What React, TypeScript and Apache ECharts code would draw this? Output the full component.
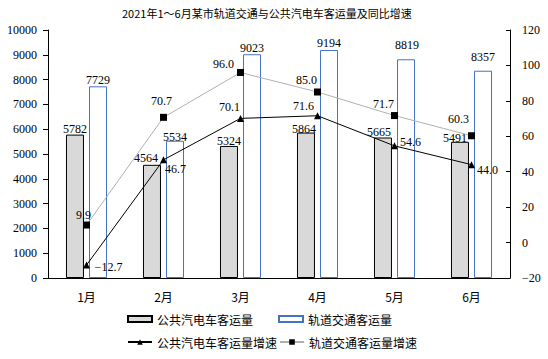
import React, { useEffect, useRef } from "react";
import * as echarts from "echarts";

const months = ["1月", "2月", "3月", "4月", "5月", "6月"];
const busVolume = [5782, 4564, 5324, 5864, 5665, 5491];
const railVolume = [7729, 5534, 9023, 9194, 8819, 8357];
const busGrowth = [-12.7, 46.7, 70.1, 71.6, 54.6, 44.0];
const railGrowth = [9.9, 70.7, 96.0, 85.0, 71.7, 60.3];

const busVolLabelOffset = [[0, 0], [-6, -1], [0, 1], [-2, 2], [-4, 0], [-5, 2]];
const railVolLabelOffset = [[0, 0], [0, 2], [0, 0], [0, -1], [1, -8], [0, -8]];
const busGrowthLabelOffset = [[22, 2], [12, 9], [-11, -11], [-14, -10], [16, -4], [16, 5]];
const railGrowthLabelOffset = [[-3, -10], [-2, -16], [-17, -9], [-11, -12], [-11, -12], [-13, -17]];

const SERIF = "'Liberation Serif', 'Times New Roman', serif";
const SANS = "'Noto Sans CJK SC', 'Noto Sans', sans-serif";

const fmtNum = (v: number, d: number) =>
  v < 0 ? "\u2212" + Math.abs(v).toFixed(d) : v.toFixed(d);

export default function App() {
  const ref = useRef<HTMLDivElement>(null);
  useEffect(() => {
    if (!ref.current) return;
    const chart = echarts.init(ref.current, undefined, { renderer: "svg" });
    const labelBase = { color: "#000", fontFamily: SERIF, fontSize: 12 };
    chart.setOption({
      animation: false,
      backgroundColor: "#fff",
      title: {
        text: "2021年1～6月某市轨道交通与公共汽电车客运量及同比增速",
        left: 122,
        top: 7,
        padding: 0,
        textStyle: { fontFamily: SANS, fontSize: 11, fontWeight: "normal", color: "#000" },
      },
      grid: { left: 48, right: 38, top: 30, bottom: 81 },
      legend: [
        {
          data: ["公共汽电车客运量"], left: 127, top: 313, padding: 0,
          itemWidth: 24, itemHeight: 6, icon: "rect",
          textStyle: { fontFamily: SANS, fontSize: 12, color: "#000" },
        },
        {
          data: ["轨道交通客运量"], left: 278, top: 313, padding: 0,
          itemWidth: 24, itemHeight: 6, icon: "rect",
          textStyle: { fontFamily: SANS, fontSize: 12, color: "#000" },
        },
        {
          data: ["公共汽电车客运量增速"], left: 127, top: 336, padding: 0,
          itemWidth: 24, itemHeight: 7,
          textStyle: { fontFamily: SANS, fontSize: 12, color: "#000" },
        },
        {
          data: ["轨道交通客运量增速"], left: 279, top: 336, padding: 0,
          itemWidth: 24, itemHeight: 7,
          textStyle: { fontFamily: SANS, fontSize: 12, color: "#000" },
        },
      ],
      xAxis: {
        type: "category",
        data: months,
        axisLine: { lineStyle: { color: "#000", width: 1 } },
        axisTick: { show: false },
        axisLabel: { color: "#000", fontFamily: SANS, fontSize: 12, margin: 12 },
      },
      yAxis: [
        {
          type: "value", min: 0, max: 10000, interval: 1000,
          axisLine: { show: true, lineStyle: { color: "#000" } },
          axisTick: { show: true, length: 5, lineStyle: { color: "#000" } },
          splitLine: { show: false },
          axisLabel: {
            color: "#000", fontFamily: SERIF, fontSize: 12, margin: 11,
            formatter: (v: number) => String(v),
          },
        },
        {
          type: "value", min: -20, max: 120, interval: 20, position: "right",
          axisLine: { show: true, lineStyle: { color: "#000" } },
          axisTick: { show: true, inside: true, length: 4, lineStyle: { color: "#000" } },
          splitLine: { show: false },
          axisLabel: {
            color: "#000", fontFamily: SERIF, fontSize: 12, margin: 12,
            formatter: (v: number) => fmtNum(v, 0),
          },
        },
      ],
      series: [
        {
          name: "公共汽电车客运量",
          type: "bar",
          barWidth: 18,
          barGap: "28%",
          itemStyle: { color: "#d9d9d9", borderColor: "#000", borderWidth: 1 },
          data: busVolume.map((v, i) => ({
            value: v,
            label: { show: true, position: "top", distance: 0, offset: busVolLabelOffset[i], ...labelBase },
          })),
        },
        {
          name: "轨道交通客运量",
          type: "bar",
          barWidth: 18,
          itemStyle: { color: "#ffffff", borderColor: "#4472c4", borderWidth: 1 },
          data: railVolume.map((v, i) => ({
            value: v,
            label: { show: true, position: "top", distance: 0, offset: railVolLabelOffset[i], ...labelBase },
          })),
        },
        {
          name: "公共汽电车客运量增速",
          type: "line",
          yAxisIndex: 1,
          symbol: "triangle",
          symbolSize: 7,
          z: 5,
          lineStyle: { color: "#000", width: 1 },
          itemStyle: { color: "#000" },
          data: busGrowth.map((v, i) => ({
            value: v,
            label: {
              show: true, position: "inside", offset: busGrowthLabelOffset[i], ...labelBase,
              formatter: (p: any) => fmtNum(p.value, 1),
            },
          })),
        },
        {
          name: "轨道交通客运量增速",
          type: "line",
          yAxisIndex: 1,
          symbol: "rect",
          symbolSize: 7,
          z: 5,
          lineStyle: { color: "#b0b0b0", width: 1 },
          itemStyle: { color: "#000" },
          data: railGrowth.map((v, i) => ({
            value: v,
            label: {
              show: true, position: "inside", offset: railGrowthLabelOffset[i], ...labelBase,
              formatter: (p: any) => fmtNum(p.value, 1),
            },
          })),
        },
      ],
    });
    return () => chart.dispose();
  }, []);
  return (
    <div
      ref={ref}
      style={{ position: "fixed", left: 0, top: 0, width: 548, height: 359, background: "#fff" }}
    />
  );
}
